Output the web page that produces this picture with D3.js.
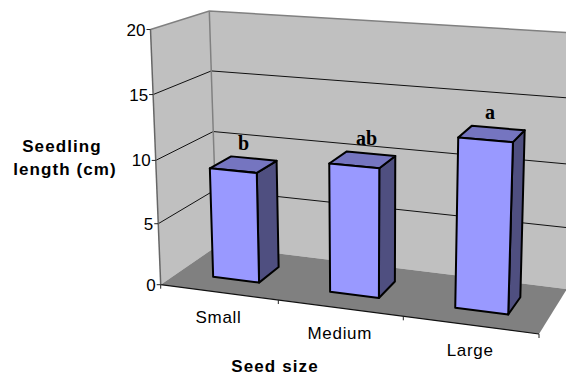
<!DOCTYPE html>
<html>
<head>
<meta charset="utf-8">
<script src="https://cdn.jsdelivr.net/npm/d3@7"></script>
<style>
  html, body { margin: 0; padding: 0; background: #fff; overflow: hidden; }
  svg { display: block; }
  text { font-family: "Liberation Sans", Arial, sans-serif; fill: #000; }
</style>
</head>
<body>
<div id="chart"></div>
<script>
// Data
const categories = ["Small", "Medium", "Large"];
const seedlingLength = [8.9, 10.2, 13.0];
const significance = ["b", "ab", "a"];
const valueTicks = [0, 5, 10, 15, 20];

const width = 566;
const height = 376;

/*******************************/
/*    3D box of the plot       */
/*******************************/
// corners of the box: [x, y] for value 0 and value 20
const frontLeft = [[160.7, 284.7], [150.5, 29.5]];
const frontRight = [[539, 334], [549, 56]];
const backLeft = [[217, 246], [209.3, 11]];
const backRight = [[567, 289], [575, 33]];

// value -> share of the box height (perspective makes it slightly uneven)
const heightScale = d3.scaleLinear()
  .domain(valueTicks)
  .range([0, 0.239, 0.487, 0.745, 1]);

// 0..1 along the front edge -> 0..1 in the box (same reason)
const widthScale = d3.scaleLinear()
  .domain([0, 1 / 3, 2 / 3, 1])
  .range([0, 0.3109, 0.6413, 1]);

// bars sit in the middle of their category slot
const xBand = d3.scaleBand()
  .domain(categories)
  .range([0, 1])
  .paddingInner(0.6)
  .paddingOuter(0.3);

const depthFront = 0.32;
const depthBack = 0.71;

const mix = (a, b, t) => [a[0] + (b[0] - a[0]) * t, a[1] + (b[1] - a[1]) * t];

// u along the width (0..1), d along the depth (0..1), v is the value
const project = (u, d, v) => {
  const h = heightScale(v);
  const w = widthScale(u);
  const fl = mix(frontLeft[0], frontLeft[1], h);
  const fr = mix(frontRight[0], frontRight[1], h);
  const bl = mix(backLeft[0], backLeft[1], h);
  const br = mix(backRight[0], backRight[1], h);
  return mix(mix(fl, fr, w), mix(bl, br, w), d);
};

const line = d3.line();
const closed = pts => line(pts) + "Z";

/*******************************/
/*    Append the containers    */
/*******************************/
const svg = d3.select("#chart")
  .append("svg")
    .attr("width", width)
    .attr("height", height)
    .attr("viewBox", `0, 0, ${width}, ${height}`);

/*******************************/
/*    Walls and floor          */
/*******************************/
svg.append("path")
  .attr("d", closed([project(0, 0, 0), project(0, 1, 0), project(0, 1, 20), project(0, 0, 20)]))
  .attr("fill", "#c0c0c0");

svg.append("path")
  .attr("d", closed([project(0, 1, 0), project(1, 1, 0), project(1, 1, 20), project(0, 1, 20)]))
  .attr("fill", "#c0c0c0");

// gridlines run along the left wall and then the back wall
valueTicks.filter(v => v > 0 && v < 20).forEach(v => {
  svg.append("path")
    .attr("d", line([project(0, 0, v), project(0, 1, v), project(1, 1, v)]))
    .attr("fill", "none")
    .attr("stroke", "#111")
    .attr("stroke-width", 1);
});

// grey top edge and back corner
svg.append("path")
  .attr("d", line([project(0, 0, 20), project(0, 1, 20), project(1, 1, 20)]))
  .attr("fill", "none")
  .attr("stroke", "#808080")
  .attr("stroke-width", 1.5);

svg.append("path")
  .attr("d", line([project(0, 1, 20), project(0, 1, 0)]))
  .attr("fill", "none")
  .attr("stroke", "#808080")
  .attr("stroke-width", 1.5);

svg.append("path")
  .attr("d", closed([project(0, 0, 0), project(1, 0, 0), project(1, 1, 0), project(0, 1, 0)]))
  .attr("fill", "#808080");

// front edge of the floor
svg.append("path")
  .attr("d", line([project(0, 0, 0), project(1, 0, 0)]))
  .attr("fill", "none")
  .attr("stroke", "#111")
  .attr("stroke-width", 1.2);

// left value axis
svg.append("path")
  .attr("d", line([project(0, 0, 0), project(0, 0, 20)]))
  .attr("fill", "none")
  .attr("stroke", "#666")
  .attr("stroke-width", 1.5);

/*******************************/
/*    Axes                     */
/*******************************/
valueTicks.forEach(v => {
  const p = project(0, 0, v);
  svg.append("line")
    .attr("x1", p[0] - 4)
    .attr("x2", p[0])
    .attr("y1", p[1])
    .attr("y2", p[1])
    .attr("stroke", "#222");
  svg.append("text")
    .text(v)
    .attr("x", p[0] - 5)
    .attr("y", p[1] + 6)
    .attr("text-anchor", "end")
    .attr("font-size", 17);
});

// ticks between the categories
d3.range(0, 4).forEach(i => {
  const p = project(i / 3, 0, 0);
  svg.append("line")
    .attr("x1", p[0])
    .attr("x2", p[0])
    .attr("y1", p[1])
    .attr("y2", p[1] + 4)
    .attr("stroke", "#222");
});

// category labels hang below the front edge
categories.forEach((c, i) => {
  const p = project((i + 0.5) / 3, 0, 0);
  svg.append("text")
    .text(c)
    .attr("x", p[0] - 1)
    .attr("y", p[1] + 31)
    .attr("text-anchor", "middle")
    .attr("font-size", 17)
    .attr("letter-spacing", 0.7);
});

// axis titles
svg.append("text")
  .text("Seed size")
  .attr("x", 275)
  .attr("y", 372)
  .attr("text-anchor", "middle")
  .attr("font-size", 17)
  .attr("font-weight", "bold")
  .attr("letter-spacing", 1.1);

[["Seedling", 62, 152], ["length (cm)", 65, 175]].forEach(t => {
  svg.append("text")
    .text(t[0])
    .attr("x", t[1])
    .attr("y", t[2])
    .attr("text-anchor", "middle")
    .attr("font-size", 17)
    .attr("font-weight", "bold")
    .attr("letter-spacing", 1.1);
});

/*******************************/
/*    Draw the bars            */
/*******************************/
// small sideways shift of each letter against its bar
const letterShift = [0, 4, -2];

categories.forEach((c, i) => {
  const value = seedlingLength[i];
  const u0 = xBand(c);
  const u1 = u0 + xBand.bandwidth();
  const bar = svg.append("g")
    .attr("stroke", "#000")
    .attr("stroke-width", 2)
    .attr("stroke-linejoin", "round");

  // side face
  bar.append("path")
    .attr("d", closed([
      project(u1, depthFront, 0), project(u1, depthBack, 0),
      project(u1, depthBack, value), project(u1, depthFront, value)
    ]))
    .attr("fill", "#4f4f80");

  // top face
  bar.append("path")
    .attr("d", closed([
      project(u0, depthFront, value), project(u1, depthFront, value),
      project(u1, depthBack, value), project(u0, depthBack, value)
    ]))
    .attr("fill", "#7575c0");

  // front face
  bar.append("path")
    .attr("d", closed([
      project(u0, depthFront, 0), project(u1, depthFront, 0),
      project(u1, depthFront, value), project(u0, depthFront, value)
    ]))
    .attr("fill", "#9999ff");

  // significance letter above the bar
  const top = project((u0 + u1) / 2, (depthFront + depthBack) / 2, value);
  svg.append("text")
    .text(significance[i])
    .attr("x", top[0] + letterShift[i])
    .attr("y", top[1] - 15)
    .attr("text-anchor", "middle")
    .attr("font-size", 20)
    .attr("font-weight", "bold")
    .style("font-family", '"Liberation Serif", "Times New Roman", serif');
});
</script>
</body>
</html>
